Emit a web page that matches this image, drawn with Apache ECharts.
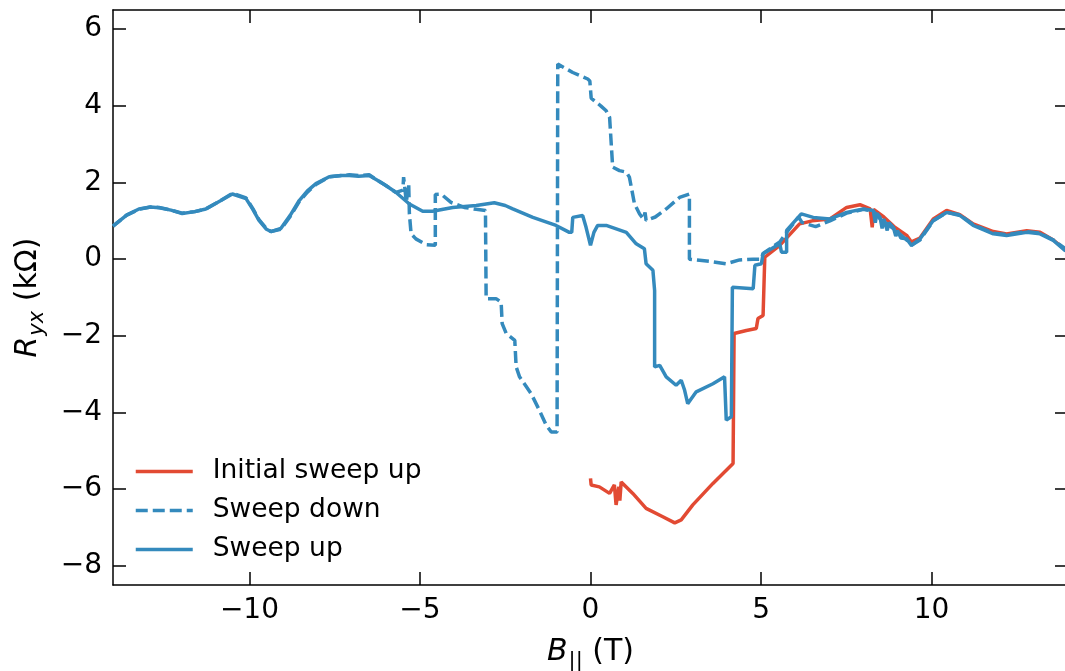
<!DOCTYPE html>
<html>
<head>
<meta charset="utf-8">
<script src="https://cdn.jsdelivr.net/npm/echarts@6/dist/echarts.min.js"></script>
<style>
  html, body { margin: 0; padding: 0; background: #fff; overflow: hidden; }
  #main { width: 1065px; height: 671px; overflow: hidden; }
</style>
</head>
<body>
<div id="main"></div>
<script>
var red = "#E24A33";
var blue = "#348ABD";
var font = "DejaVu Sans";

// tick positions
var xTicks = [-10, -5, 0, 5, 10];
var yTicks = [-8, -6, -4, -2, 0, 2, 4, 6];

// [B (T), Ryx (kOhm)]
var initialUp = [
  [0.0, -5.72], [0.02, -5.89], [0.26, -5.94], [0.56, -6.11], [0.70, -5.89], [0.75, -6.41],
  [0.83, -5.94], [0.86, -6.3], [0.90, -5.81], [1.24, -6.11], [1.63, -6.50], [2.12, -6.72],
  [2.47, -6.88], [2.66, -6.80], [3.0, -6.41], [3.59, -5.85], [4.18, -5.33], [4.21, -1.94],
  [4.57, -1.86], [4.86, -1.81], [4.91, -1.55], [5.06, -1.47], [5.11, 0.05], [5.55, 0.36],
  [6.13, 0.92], [6.5, 1.0], [7.02, 1.05], [7.51, 1.35], [7.9, 1.42], [8.2, 1.31], [8.26, 0.83],
  [8.3, 1.3], [8.6, 1.1], [8.9, 0.85], [9.27, 0.62], [9.41, 0.45], [9.66, 0.55], [10.05, 1.05],
  [10.44, 1.27], [10.83, 1.16], [11.22, 0.92], [11.81, 0.72], [12.2, 0.66], [12.79, 0.74],
  [13.18, 0.70], [13.57, 0.5], [13.91, 0.25], [14, 0.2]
];

var sweepDown = [
  [14, 0.22], [13.57, 0.5], [13.18, 0.68], [12.79, 0.72], [12.2, 0.64], [11.81, 0.68],
  [11.22, 0.9], [10.83, 1.16], [10.44, 1.22], [10.05, 1.0], [9.66, 0.5], [9.41, 0.36],
  [9.27, 0.5], [8.88, 0.8], [8.49, 1.05], [8.29, 1.25], [8.0, 1.3], [7.51, 1.2], [7.02, 1.0],
  [6.6, 0.85], [6.4, 0.9], [6.2, 0.96], [6.1, 1.1], [5.75, 0.7], [5.55, 0.45], [5.06, 0.15],
  [5.0, 0.0], [4.77, 0.0], [4.37, -0.02], [3.98, -0.12], [3.6, -0.07], [3.2, -0.03], [2.9, 0.0],
  [2.9, 1.70], [2.61, 1.61], [2.22, 1.31], [1.9, 1.1], [1.63, 1.01], [1.6, 1.22], [1.55, 1.05],
  [1.44, 1.18], [1.29, 1.44], [1.14, 2.14], [1.05, 2.27], [0.85, 2.31], [0.65, 2.40],
  [0.56, 3.70], [0.46, 3.87], [0.3, 4.0], [0.17, 4.09], [0.02, 4.2], [-0.02, 4.65],
  [-0.08, 4.70], [-0.52, 4.87], [-0.96, 5.09], [-0.98, -4.51], [-1.15, -4.51], [-1.30, -4.33],
  [-1.50, -3.94], [-1.74, -3.51], [-2.08, -3.07], [-2.18, -2.81], [-2.22, -2.12], [-2.47, -1.94],
  [-2.59, -1.68], [-2.62, -1.12], [-2.77, -1.03], [-3.06, -1.03], [-3.08, 1.27], [-3.35, 1.3],
  [-3.7, 1.35], [-4.09, 1.48], [-4.38, 1.70], [-4.55, 1.69], [-4.55, 0.36], [-4.82, 0.38],
  [-5.12, 0.53], [-5.26, 0.66], [-5.31, 1.18], [-5.33, 1.96], [-5.4, 1.5], [-5.48, 2.14],
  [-5.5, 1.8], [-5.7, 1.74], [-6.0, 1.92], [-6.2, 2.03], [-6.49, 2.2], [-6.8, 2.18],
  [-7.07, 2.2], [-7.3, 2.18], [-7.66, 2.15], [-8.05, 1.95], [-8.3, 1.75], [-8.54, 1.5],
  [-8.8, 1.12], [-9.08, 0.78], [-9.37, 0.72], [-9.5, 0.8], [-9.72, 1.03], [-9.9, 1.32],
  [-10.1, 1.6], [-10.5, 1.72], [-10.9, 1.5], [-11.28, 1.31], [-11.6, 1.24], [-11.97, 1.2],
  [-12.3, 1.28], [-12.65, 1.35], [-12.9, 1.36], [-13.24, 1.3], [-13.6, 1.15], [-14, 0.86]
];

var sweepUp = [
  [-14.0, 0.86], [-13.6, 1.15], [-13.24, 1.31], [-12.9, 1.36], [-12.65, 1.34], [-12.3, 1.28],
  [-11.97, 1.19], [-11.6, 1.24], [-11.28, 1.31], [-10.9, 1.50], [-10.5, 1.70], [-10.1, 1.58],
  [-9.9, 1.30], [-9.72, 1.01], [-9.5, 0.78], [-9.37, 0.72], [-9.08, 0.80], [-8.8, 1.15],
  [-8.54, 1.53], [-8.3, 1.78], [-8.05, 1.97], [-7.66, 2.15], [-7.3, 2.18], [-7.07, 2.18],
  [-6.8, 2.16], [-6.49, 2.18], [-6.2, 2.03], [-6.0, 1.92], [-5.7, 1.74], [-5.31, 1.44],
  [-4.92, 1.25], [-4.63, 1.25], [-4.04, 1.35], [-3.35, 1.40], [-2.82, 1.47], [-2.5, 1.40],
  [-2.28, 1.31], [-1.69, 1.09], [-1.01, 0.88], [-0.62, 0.70], [-0.55, 0.70], [-0.52, 1.09],
  [-0.23, 1.14], [-0.13, 0.83], [0.0, 0.36], [0.1, 0.7], [0.21, 0.88], [0.46, 0.88],
  [1.05, 0.70], [1.34, 0.40], [1.58, 0.27], [1.63, -0.12], [1.83, -0.29], [1.88, -0.82],
  [1.88, -2.81], [2.03, -2.77], [2.22, -3.07], [2.51, -3.29], [2.66, -3.16], [2.76, -3.42],
  [2.85, -3.77], [3.10, -3.46], [3.59, -3.25], [3.93, -3.07], [3.98, -4.20], [4.13, -4.11],
  [4.16, -0.73], [4.77, -0.77], [4.82, -0.16], [5.01, -0.12], [5.06, 0.14], [5.55, 0.40],
  [5.60, 0.18], [5.75, 0.18], [5.75, 0.75], [6.18, 1.18], [6.53, 1.09], [7.02, 1.05],
  [7.51, 1.22], [8.0, 1.31], [8.29, 1.27], [8.35, 0.95], [8.4, 1.2], [8.49, 1.09], [8.55, 0.8],
  [8.6, 1.05], [8.7, 0.75], [8.75, 0.95], [8.88, 0.83], [8.95, 0.6], [9.0, 0.75], [9.1, 0.55],
  [9.27, 0.53], [9.41, 0.36], [9.66, 0.53], [10.05, 1.01], [10.44, 1.22], [10.83, 1.14],
  [11.22, 0.88], [11.81, 0.66], [12.2, 0.62], [12.79, 0.70], [13.18, 0.66], [13.57, 0.49],
  [13.91, 0.23], [14, 0.2]
];

function minus(v) {
  return v < 0 ? "\u2212" + (-v) : String(v);
}

var spine = { show: true, onZero: false, lineStyle: { color: "#000", width: 1.5 } };
var tick = { show: true, inside: true, length: 13, lineStyle: { color: "#000", width: 1.5 } };

var myChart = echarts.init(document.getElementById("main"));
myChart.setOption({
  animation: false,
  backgroundColor: "#fff",
  textStyle: { fontFamily: font },
  grid: {
    left: 113, top: 10, width: 955, height: 575,
    containLabel: false, outerBoundsMode: "none"
  },
  legend: {
    orient: "vertical",
    left: 129,
    top: 453,
    itemWidth: 57,
    itemHeight: 14,
    itemGap: 12,
    itemStyle: { opacity: 0 },
    lineStyle: { width: 3.5 },
    textStyle: { fontFamily: font, fontSize: 26.5, color: "#000", padding: [0, 0, 0, 15] },
    data: ["Initial sweep up", "Sweep down", "Sweep up"]
  },
  xAxis: [
    {
      type: "value",
      min: -14,
      max: 14,
      position: "bottom",
      axisLine: spine,
      axisTick: Object.assign({ customValues: xTicks }, tick),
      axisLabel: {
        customValues: xTicks,
        formatter: minus,
        fontFamily: font,
        fontSize: 28,
        color: "#000",
        margin: 12
      },
      splitLine: { show: false },
      name: "{i|B}{s|||} (T)",
      nameLocation: "middle",
      nameGap: 48,
      nameTextStyle: {
        fontFamily: font,
        fontSize: 30,
        color: "#000",
        rich: {
          i: { fontFamily: font, fontSize: 30, fontStyle: "italic", color: "#000" },
          s: { fontFamily: font, fontSize: 21, color: "#000", padding: [18, 0, 0, 1] }
        }
      }
    },
    {
      type: "value",
      min: -14,
      max: 14,
      position: "top",
      axisLine: spine,
      axisTick: Object.assign({ customValues: xTicks }, tick),
      axisLabel: { show: false },
      splitLine: { show: false }
    }
  ],
  yAxis: [
    {
      type: "value",
      min: -8.5,
      max: 6.5,
      position: "left",
      axisLine: spine,
      axisTick: Object.assign({ customValues: yTicks }, tick),
      axisLabel: {
        customValues: yTicks,
        formatter: minus,
        fontFamily: font,
        fontSize: 28,
        color: "#000",
        margin: 11
      },
      splitLine: { show: false },
      name: "{i|R}{s|yx} (k\u03a9)",
      nameLocation: "middle",
      nameGap: 65,
      nameTextStyle: {
        fontFamily: font,
        fontSize: 30,
        color: "#000",
        rich: {
          i: { fontFamily: font, fontSize: 30, fontStyle: "italic", color: "#000" },
          s: { fontFamily: font, fontSize: 21, fontStyle: "italic", color: "#000", padding: [18, 0, 0, 1] }
        }
      }
    },
    {
      type: "value",
      min: -8.5,
      max: 6.5,
      position: "right",
      axisLine: spine,
      axisTick: Object.assign({ customValues: yTicks }, tick),
      axisLabel: { show: false },
      splitLine: { show: false }
    }
  ],
  series: [
    {
      name: "Initial sweep up",
      type: "line",
      data: initialUp,
      showSymbol: false,
      symbol: "none",
      color: red,
      lineStyle: { color: red, width: 3.5 }
    },
    {
      name: "Sweep down",
      type: "line",
      data: sweepDown,
      showSymbol: false,
      symbol: "none",
      color: blue,
      lineStyle: { color: blue, width: 3.5, type: [12, 5] }
    },
    {
      name: "Sweep up",
      type: "line",
      data: sweepUp,
      showSymbol: false,
      symbol: "none",
      color: blue,
      lineStyle: { color: blue, width: 3.5 }
    }
  ]
});
</script>
</body>
</html>
